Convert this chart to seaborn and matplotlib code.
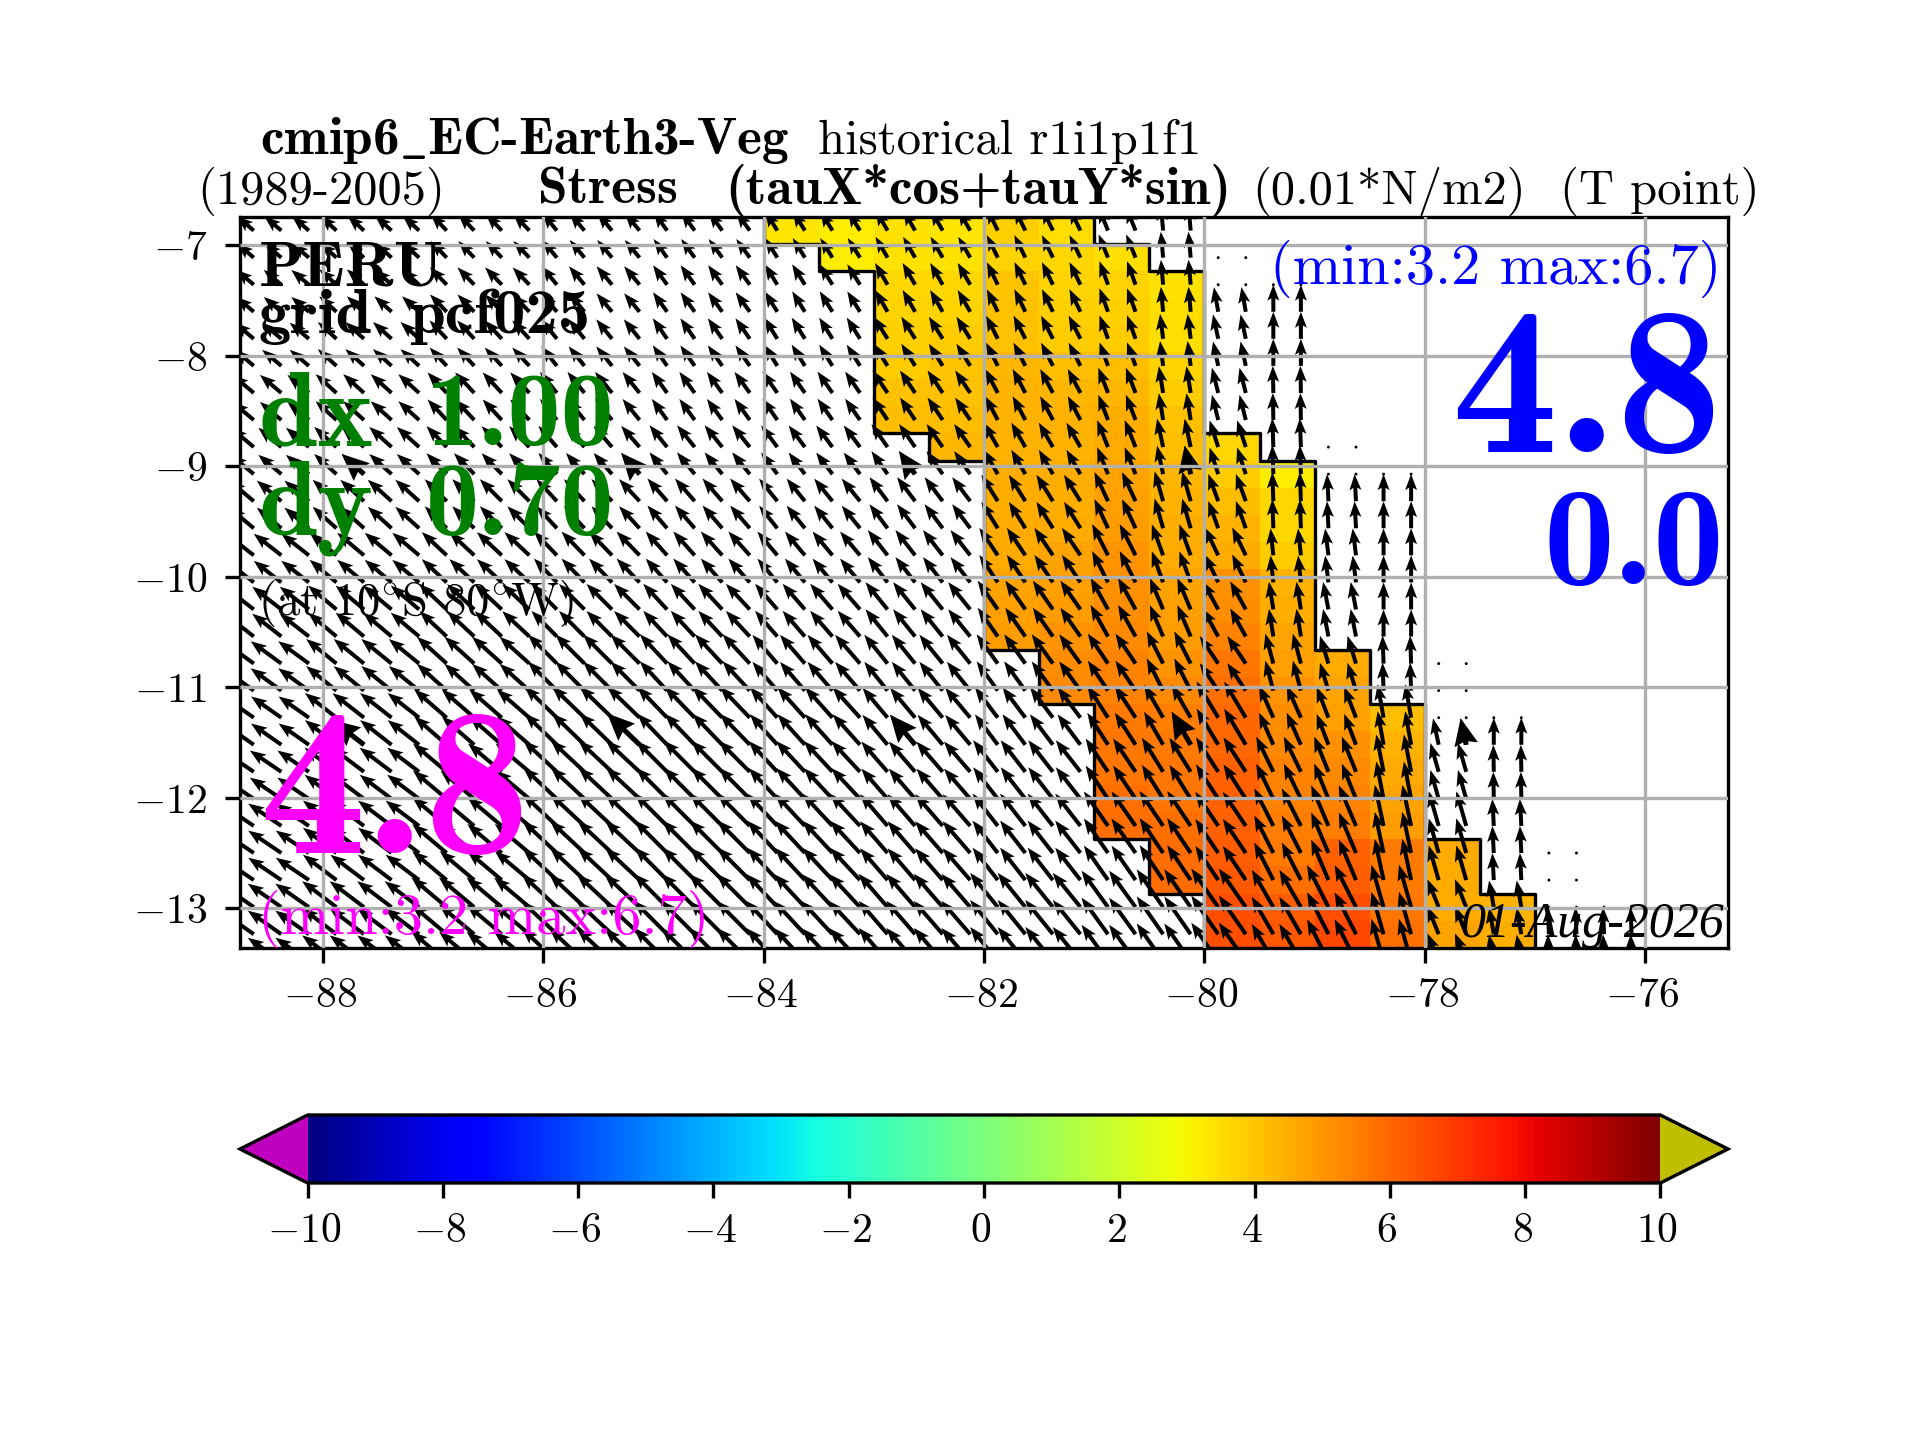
import numpy as np
import matplotlib
matplotlib.use("Agg")
import matplotlib.pyplot as plt
from matplotlib.cm import ScalarMappable
from matplotlib.colors import Normalize
from matplotlib.transforms import ScaledTranslation
import seaborn as sns

# ---------- data ----------
LON_TICKS = [-88, -86, -84, -82, -80, -78, -76]
LAT_TICKS = [-7, -8, -9, -10, -11, -12, -13]
CBAR_TICKS = [-10, -8, -6, -4, -2, 0, 2, 4, 6, 8, 10]
XLIM = (-88.75, -75.25)
YLIM = (-13.36, -6.742)

# colour cells: 0.5 deg wide, 0.245 deg high; row 0 spans EDGE0 .. EDGE0-0.245
EDGE0 = -6.742
ROW_H = 0.245
CELL_W = 0.5
CELL_LON0 = -84.0
N_ROWS = 28
CELL_COLS = [
    (0, [3.3]),
    (0, [3.2, 3.2]),
    (0, [3.4, 3.4, 3.6, 3.7, 3.8, 3.9, 4.1, 4.2]),
    (0, [3.3, 3.4, 3.6, 3.7, 3.9, 4.0, 4.1, 4.2, 4.3]),
    (0, [3.8, 3.7, 4.0, 4.1, 4.1, 4.3, 4.4, 4.4, 4.4, 4.5, 4.5, 4.6, 4.6, 4.7, 4.8, 4.9]),
    (0, [3.5, 3.6, 3.7, 3.8, 3.9, 4.2, 4.3, 4.4, 4.4, 4.5, 4.5, 4.6, 4.7, 4.8, 4.9, 5.0, 5.2, 5.3]),
    (1, [3.5, 3.7, 3.8, 3.9, 4.2, 4.3, 4.5, 4.6, 4.7, 4.8, 4.9, 5.0, 5.1, 5.2, 5.3, 5.4, 5.4,
         5.6, 5.7, 5.7, 5.8, 5.8]),
    (2, [3.4, 3.5, 3.5, 3.7, 3.9, 4.1, 4.2, 4.3, 4.4, 4.5, 4.6, 4.7, 4.8, 4.9, 5.0, 5.3, 5.5,
         5.6, 5.7, 5.7, 5.8, 5.9, 5.9]),
    (8, [3.6, 3.9, 4.2, 4.4, 4.6, 5.1, 5.2, 5.4, 5.7, 5.8, 6.0, 6.0, 6.1, 6.1, 6.1, 6.2, 6.3,
         6.5, 6.5, 6.5]),
    (9, [3.2, 3.6, 3.6, 3.9, 4.4, 4.5, 4.7, 4.8, 5.0, 5.2, 5.3, 5.4, 5.4, 5.5, 5.6, 5.8, 6.2,
         6.3, 6.3]),
    (16, [4.6, 4.7, 4.8, 5.1, 5.3, 5.4, 5.5, 6.1, 6.2, 6.5, 6.7, 6.7]),
    (18, [4.2, 4.4, 4.6, 4.7, 4.9, 5.6, 5.6, 5.7, 5.8, 5.8]),
    (23, [4.6, 4.6, 4.6, 4.7, 4.8]),
    (25, [4.4, 4.5, 4.7]),
]

# arrows: tails on a 0.25 x 0.245 deg grid; k counts rows from -7.11
ARROW_LON0 = -88.625
ARROW_DLON = 0.25
ARROW_NLON = 51
ARROW_LAT0 = -7.11
ARROW_KS = list(range(-1, 28))
# last-land columns: (left edge of 0.5 deg pair, first arrow row, rows with a zero vector)
COAST_PAIRS = [
    (-80.0, 2, [0, 1]), (-79.5, 2, [1]), (-79.0, 9, [7, 8]), (-78.5, 9, [8]),
    (-78.0, 18, [15, 16, 17]), (-77.5, 18, [17]), (-77.0, 25, [22, 23, 24]), (-76.5, 25, [24]),
]
BIG_ARROWS_LON = [-87.625, -85.125, -82.625, -80.125, -77.625]
BIG_ARROWS_K = [8, 18]

TAB_LON_EDGES = [-89, -88, -87, -86, -85, -84, -83, -82, -81, -80.5, -80, -79.5, -79, -78.5, -78, -77.5, -77, -76]
TAB_LAT_TOPS = [-6.75, -7.25, -7.75, -8.25, -8.75, -9.25, -9.75, -10.25, -10.75, -11.25, -11.75, -12.25, -12.75, -13.25]
ANGLE = [
    [140, 138, 134, 130, 126, 122, 120, 116, 112, 95, 100, 90, 90, 90, 90, 90, 90],
    [140, 138, 134, 130, 126, 122, 120, 116, 110, 95, 100, 90, 90, 90, 90, 90, 90],
    [140, 138, 133, 129, 125, 122, 122, 117, 110, 97, 102, 90, 90, 90, 90, 90, 90],
    [140, 138, 133, 129, 126, 125, 124, 118, 111, 99, 104, 91, 90, 90, 90, 90, 90],
    [140, 138, 134, 131, 129, 127, 125, 120, 112, 102, 108, 92, 92, 90, 90, 90, 90],
    [140, 138, 135, 133, 131, 129, 127, 122, 115, 106, 110, 92, 93, 90, 90, 90, 90],
    [142, 140, 137, 134, 132, 130, 128, 124, 117, 110, 116, 96, 97, 90, 90, 90, 90],
    [142, 140, 137, 135, 133, 131, 129, 125, 119, 113, 119, 99, 101, 90, 90, 90, 90],
    [144, 141, 138, 135, 133, 131, 129, 126, 124, 117, 124, 105, 107, 92, 90, 90, 90],
    [145, 142, 139, 136, 134, 132, 130, 127, 123, 120, 121, 114, 111, 100, 102, 90, 90],
    [146, 143, 140, 137, 135, 133, 131, 128, 124, 122, 123, 116, 112, 101, 106, 91, 90],
    [146, 143, 140, 137, 135, 133, 131, 128, 125, 124, 124, 117, 113, 102, 106, 93, 90],
    [145, 143, 140, 137, 135, 133, 131, 129, 126, 125, 125, 120, 117, 106, 112, 100, 92],
    [145, 143, 140, 137, 135, 133, 131, 129, 126, 125, 125, 120, 117, 106, 112, 100, 92],
]
LENGTH_PX = [
    [22, 22, 23, 23, 23, 23, 24, 25, 25, 26, 25, 27, 27, 27, 27, 27, 27],
    [23, 23, 24, 24, 24, 24, 25, 25, 25, 25, 25, 27, 27, 27, 27, 27, 27],
    [25, 25, 25, 25, 25, 25, 26, 26, 25, 25, 25, 27, 27, 27, 27, 27, 27],
    [28, 28, 28, 27, 26, 26, 27, 27, 27, 27, 26, 27, 27, 27, 27, 27, 27],
    [30, 30, 29, 28, 28, 27, 28, 28, 29, 29, 28, 29, 27, 27, 27, 27, 27],
    [32, 32, 31, 30, 30, 29, 30, 31, 32, 31, 29, 29, 27, 27, 27, 27, 27],
    [35, 35, 34, 33, 32, 31, 32, 33, 35, 33, 31, 27, 27, 27, 27, 27, 27],
    [37, 37, 37, 36, 35, 34, 35, 35, 36, 34, 32, 28, 28, 27, 27, 27, 27],
    [38, 39, 40, 41, 40, 38, 37, 36, 36, 36, 33, 31, 29, 28, 27, 27, 27],
    [37, 40, 43, 45, 43, 41, 39, 38, 38, 38, 42, 35, 33, 34, 27, 27, 27],
    [38, 40, 44, 46, 44, 42, 40, 40, 40, 40, 41, 39, 38, 38, 30, 27, 27],
    [40, 42, 45, 47, 46, 44, 42, 41, 42, 42, 41, 42, 44, 42, 36, 27, 27],
    [41, 43, 46, 48, 47, 45, 44, 44, 45, 46, 47, 43, 47, 44, 30, 27, 27],
    [41, 43, 46, 48, 47, 45, 44, 44, 45, 46, 47, 43, 47, 44, 30, 27, 27],
]

# ---------- helpers for placement ----------
W, H = 1920, 1440


def fx(px):
    return px / W


def fy(py):
    return 1 - py / H


sns.set_style("ticks", rc={
    "axes.edgecolor": "black", "text.color": "black", "axes.labelcolor": "black",
    "xtick.color": "black", "ytick.color": "black", "grid.color": "#b0b0b0",
    "axes.grid": False, "axes.linewidth": 0.8, "grid.linewidth": 0.8,
})
plt.rcParams.update({
    "font.family": ["cmr10"], "mathtext.fontset": "cm",
    "axes.formatter.use_mathtext": True, "axes.unicode_minus": True,
    "xtick.major.size": 3.5, "ytick.major.size": 3.5,
    "xtick.major.width": 0.8, "ytick.major.width": 0.8, "font.size": 10,
    "ytick.major.pad": 4.4,
})

fig = plt.figure(figsize=(6.4, 4.8), dpi=300)
ax = fig.add_axes([fx(240), fy(948), fx(1728 - 240), (948 - 217) / H])

cmap = matplotlib.colormaps["jet"].copy()
cmap.set_under("m")
cmap.set_over("y")
norm = Normalize(-10, 10)

# colour field
n_cols = len(CELL_COLS)
field = np.full((N_ROWS, n_cols), np.nan)
for c, (start, vals) in enumerate(CELL_COLS):
    field[start:start + len(vals), c] = vals
lon_edges = CELL_LON0 + CELL_W * np.arange(n_cols + 1)
lat_edges = EDGE0 - ROW_H * np.arange(N_ROWS + 1)
ax.pcolormesh(lon_edges, lat_edges, np.ma.masked_invalid(field), cmap=cmap, norm=norm, zorder=0)

# arrows
lons = ARROW_LON0 + ARROW_DLON * np.arange(ARROW_NLON)
px_per_deg = 110.3


def vector(lon, lat):
    i = np.searchsorted(TAB_LON_EDGES, lon) - 1
    j = np.searchsorted(-np.array(TAB_LAT_TOPS), -lat) - 1
    i = int(np.clip(i, 0, len(ANGLE[0]) - 1))
    j = int(np.clip(j, 0, len(ANGLE) - 1))
    a = np.deg2rad(ANGLE[j][i])
    ln = LENGTH_PX[j][i] / px_per_deg
    return ln * np.cos(a), ln * np.sin(a)


def pair_state(lon, k):
    """draw state for one grid point: 'arrow', 'dot' or None"""
    for left, first, dots in COAST_PAIRS:
        if left <= lon < left + 0.5:
            if k >= first:
                return "arrow"
            return "dot" if k in dots else None
    return None if lon >= -76 else "arrow"


X, Y, U, V = [], [], [], []
for lon in lons:
    for k in ARROW_KS:
        state = pair_state(lon, k)
        if state is None:
            continue
        lat = ARROW_LAT0 - ROW_H * k
        u, v = vector(lon, lat) if state == "arrow" else (0.0, 0.0)
        X.append(lon), Y.append(lat), U.append(u), V.append(v)

ax.quiver(X, Y, U, V, angles="xy", scale_units="xy", scale=1, pivot="tail", units="dots",
          width=4.0, headwidth=3.0, headlength=4.0, headaxislength=3.4, minlength=0.8,
          color="black", zorder=1)

bX, bY, bU, bV = [], [], [], []
for lon in BIG_ARROWS_LON:
    for k in BIG_ARROWS_K:
        if pair_state(lon, k) == "arrow":
            lat = ARROW_LAT0 - ROW_H * k
            u, v = vector(lon, lat)
            bX.append(lon), bY.append(lat), bU.append(u), bV.append(v)
ax.quiver(bX, bY, bU, bV, angles="xy", scale_units="xy", scale=1, pivot="tail", units="dots",
          width=5.0, headwidth=4.8, headlength=5.4, headaxislength=4.8, color="black", zorder=1)

# coast outline from the cell table
tops = [s for s, _ in CELL_COLS]
bottoms = [s + len(v) - 1 for s, v in CELL_COLS]


def edge(r):
    return EDGE0 - ROW_H * (r + 1)


lx, ly = [CELL_LON0], [YLIM[1]]
for c in range(8):
    lx += [lon_edges[c], lon_edges[c + 1]]
    ly += [edge(bottoms[c]), edge(bottoms[c])]
lx.append(lon_edges[8]), ly.append(YLIM[0])
rx, ry = [lon_edges[6]], [YLIM[1]]
for c in range(6, n_cols):
    rx += [lon_edges[c], lon_edges[c + 1]]
    ry += [edge(tops[c] - 1), edge(tops[c] - 1)]
rx.append(lon_edges[n_cols]), ry.append(YLIM[0])
ax.plot(lx, ly, color="black", lw=0.8, zorder=1.5)
ax.plot(rx, ry, color="black", lw=0.8, zorder=1.5)

ax.set_xlim(*XLIM)
ax.set_ylim(*YLIM)
ax.set_xticks(LON_TICKS)
ax.set_yticks(LAT_TICKS)
ax.set_axisbelow(False)
ax.grid(True, color="#b0b0b0", lw=0.8)
sns.despine(ax=ax, top=False, right=False)

# colour bar: the extension tips lie inside the axes box given here
cax = fig.add_axes([fx(240), fy(1183), fx(1728 - 240), (1183 - 1115) / H])
cb = fig.colorbar(ScalarMappable(norm=norm, cmap=cmap), cax=cax, orientation="horizontal",
                  extend="both", extendfrac=0.05, ticks=CBAR_TICKS)

# horizontal tick labels sit 3 px further left in the reference
fig.canvas.draw()
nudge = ScaledTranslation(-3 / 300, 0, fig.dpi_scale_trans)
for axis_obj in (ax.xaxis, cax.xaxis):
    for lab in axis_obj.get_ticklabels():
        lab.set_transform(lab.get_transform() + nudge)

# texts
BF = "cmb10"


def put(px, py, s, size, color="black", family="cmr10", ha="left", **kw):
    fig.text(fx(px), fy(py), s, fontsize=size, color=color, family=family, ha=ha, va="baseline",
             zorder=10, **kw)


put(260, 154, r"cmip6$\_$EC-Earth3-Veg", 12.8, family=BF)
put(818, 154, "historical r1i1p1f1", 11.7)
put(197, 204, "(1989-2005)", 11.65)
put(538, 204, "Stress", 12.8, family=BF)
put(1231, 204, "(tauX*cos+tauY*sin)", 12.8, family=BF, ha="right")
put(1252, 204, "(0.01*N/m2)", 11.65)
put(1560, 204, "(T point)", 11.65)
put(259, 285, "PERU", 15.5, family=BF)
put(259, 333, "grid", 15.5, family=BF)
put(590, 333, "pcf025", 15.5, family=BF, ha="right")
put(259, 445, "dx", 25.5, color="green", family=BF)
put(614, 445, "1.00", 25.5, color="green", family=BF, ha="right")
put(259, 535, "dy", 25.5, color="green", family=BF)
put(614, 535, "0.70", 25.5, color="green", family=BF, ha="right")
put(258, 615, r"(at 10$^{\circ}$S 80$^{\circ}$W)", 11.2)
put(259, 853, "4.8", 51, color="magenta", family=BF)
put(258, 934, "(min:3.2 max:6.7)", 14, color="magenta")
put(1721, 284, "(min:3.2 max:6.7)", 14, color="blue", ha="right")
put(1722, 452, "4.8", 51, color="blue", family=BF, ha="right")
put(1724, 584, "0.0", 34, color="blue", family=BF, ha="right")
put(1724, 937, "01-Aug-2026", 12, family="Liberation Serif", ha="right", style="italic")

fig.savefig("out.png", dpi=300)
